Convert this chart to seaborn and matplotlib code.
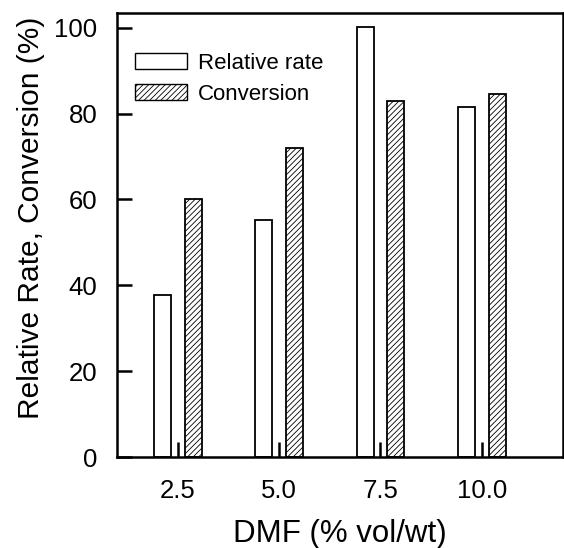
import matplotlib
matplotlib.use("Agg")
import matplotlib.pyplot as plt
import seaborn as sns
import pandas as pd
from matplotlib.patches import Patch

dmf = [2.5, 5.0, 7.5, 10.0]
relative_rate = [37.7, 55.1, 100.2, 81.6]
conversion = [60.0, 72.0, 82.9, 84.6]
series_names = ["Relative rate", "Conversion"]
x_tick_labels = ["2.5", "5.0", "7.5", "10.0"]
y_ticks = [0, 20, 40, 60, 80, 100]

df = pd.DataFrame({
    "dmf": dmf * 2,
    "value": relative_rate + conversion,
    "series": [series_names[0]] * len(dmf) + [series_names[1]] * len(dmf),
})

sns.set_style("ticks")
plt.rcParams["font.family"] = ["Liberation Sans", "DejaVu Sans"]
plt.rcParams["hatch.linewidth"] = 0.6
plt.rcParams["hatch.color"] = "#555555"
plt.rcParams["text.color"] = "black"
plt.rcParams["axes.labelcolor"] = "black"

fig = plt.figure(figsize=(5.64, 5.48), dpi=100)
ax = fig.add_axes([0.2074, 0.166, 0.7906, 0.810])

sns.barplot(data=df, x="dmf", y="value", hue="series", hue_order=series_names,
            native_scale=True, width=0.61, gap=0.45, dodge=True,
            palette=["white", "#e8e8e8"], edgecolor="black", linewidth=1.3,
            errorbar=None, legend=False, ax=ax)

for bar in ax.containers[1]:
    bar.set_hatch("//////")
    bar.set_facecolor("white")

ax.set_xlim(1.0, 12.0)
ax.set_ylim(0, 103.4)
ax.set_xticks(dmf)
ax.set_xticklabels(x_tick_labels)
ax.set_yticks(y_ticks)
ax.tick_params(axis="both", direction="in", length=11, width=1.8, labelsize=18.5,
               color="black", labelcolor="black")
ax.tick_params(axis="x", pad=16)
ax.tick_params(axis="y", pad=14)

for s in ax.spines.values():
    s.set_visible(True)
    s.set_linewidth(1.8)
    s.set_color("black")

ax.set_xlabel("DMF (% vol/wt)", fontsize=22.5, labelpad=11)
ax.set_ylabel("Relative Rate, Conversion (%)", fontsize=21.5, labelpad=7, y=0.54)

handles = [Patch(facecolor="white", edgecolor="black", linewidth=1.0),
           Patch(facecolor="white", edgecolor="black", linewidth=1.0, hatch="//////")]
leg = ax.legend(handles, series_names, loc="upper left", bbox_to_anchor=(0.01, 0.94),
                frameon=False, fontsize=16, handlelength=2.34, handleheight=0.72,
                handletextpad=0.5, labelspacing=0.45, borderaxespad=0.2)

fig.savefig("out.png", dpi=100)
